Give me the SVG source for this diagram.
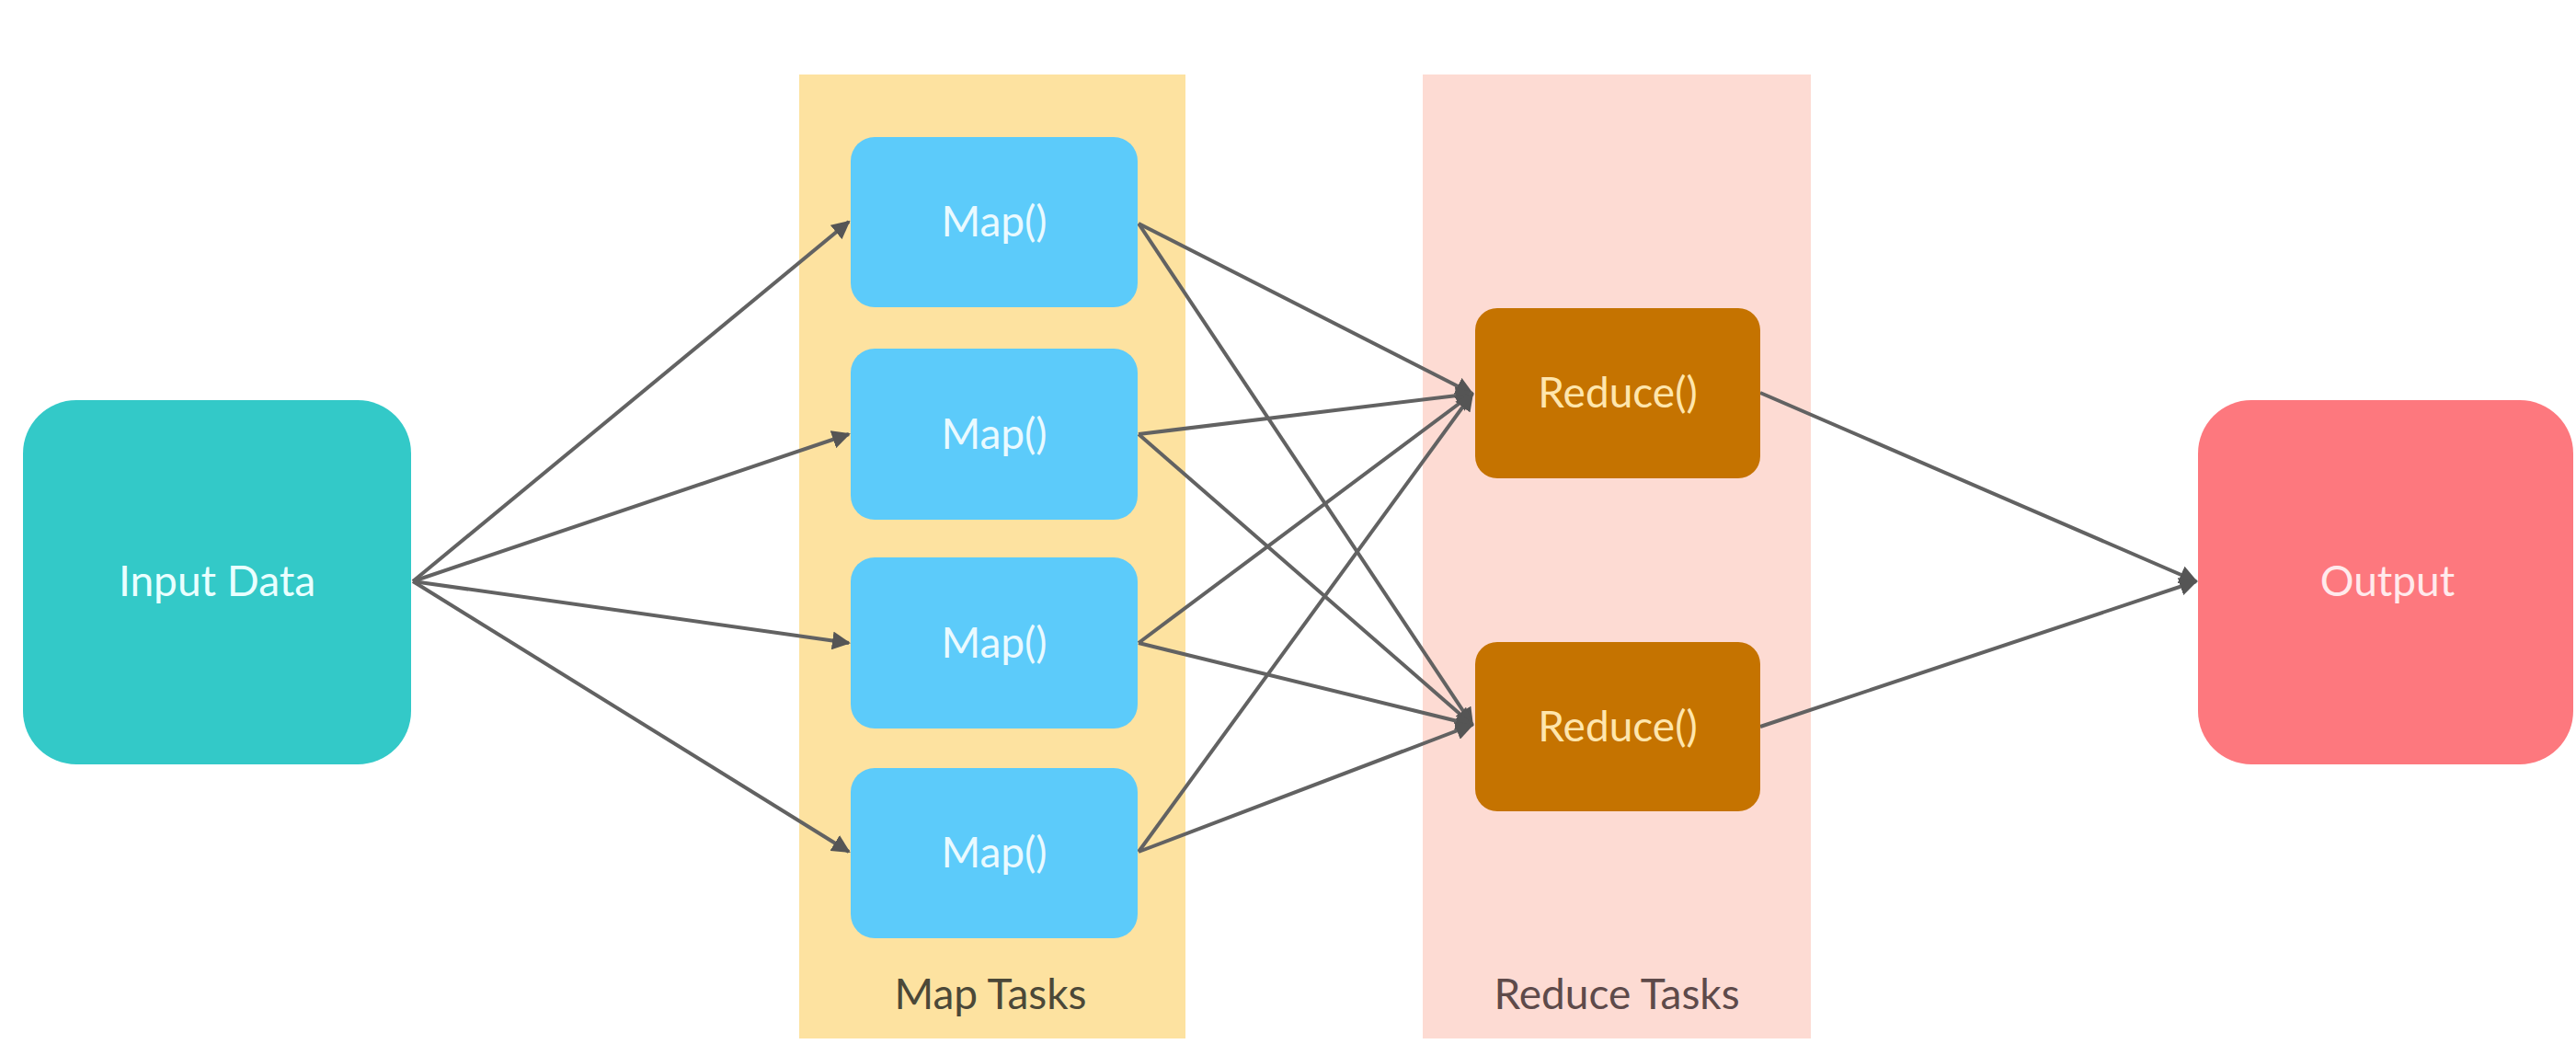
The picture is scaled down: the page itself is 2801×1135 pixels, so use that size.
<svg xmlns="http://www.w3.org/2000/svg" width="2801" height="1135" viewBox="0 0 2801 1135">
<style>
.lbl{font-family:Lato,"Liberation Sans",sans-serif;font-size:46px;text-anchor:middle}
.big{fill:#eaffff}
.map rect{fill:#5ccbfa}
.map text{fill:#eafaff}
.red rect{fill:#c57300}
.red text{fill:#ffe6ad}
.cap{font-family:Lato,"Liberation Sans",sans-serif;font-size:46px;text-anchor:middle}
.conn line{stroke:#626262;stroke-width:4;fill:none}
</style>
<defs>
<marker id="ah" viewBox="0 0 10 10" refX="9" refY="5" markerWidth="5" markerHeight="5" orient="auto" markerUnits="strokeWidth">
<path d="M0,0 L10,5 L0,10 z" fill="#555"/>
</marker>
</defs>
<rect width="2801" height="1135" fill="#ffffff"/>
<g id="map-tasks">
<rect x="869" y="81" width="420" height="1048" fill="#fde2a0"/>
<text class="cap" x="1077" y="1097" fill="#4b4838">Map Tasks</text>
</g>
<g id="reduce-tasks">
<rect x="1547" y="81" width="422" height="1048" fill="#fddbd3"/>
<text class="cap" x="1758" y="1097" fill="#5e4a4a">Reduce Tasks</text>
</g>
<g class="conn" id="connectors">
<line x1="449" y1="632" x2="923" y2="241" marker-end="url(#ah)"/>
<line x1="449" y1="632" x2="923" y2="472" marker-end="url(#ah)"/>
<line x1="449" y1="632" x2="923" y2="699" marker-end="url(#ah)"/>
<line x1="449" y1="632" x2="923" y2="926" marker-end="url(#ah)"/>
<line x1="1238" y1="243" x2="1601" y2="428" marker-end="url(#ah)"/>
<line x1="1238" y1="243" x2="1601" y2="788" marker-end="url(#ah)"/>
<line x1="1238" y1="472" x2="1601" y2="428" marker-end="url(#ah)"/>
<line x1="1238" y1="472" x2="1601" y2="788" marker-end="url(#ah)"/>
<line x1="1238" y1="699" x2="1601" y2="428" marker-end="url(#ah)"/>
<line x1="1238" y1="699" x2="1601" y2="788" marker-end="url(#ah)"/>
<line x1="1238" y1="926" x2="1601" y2="428" marker-end="url(#ah)"/>
<line x1="1238" y1="926" x2="1601" y2="788" marker-end="url(#ah)"/>
<line x1="1914" y1="427" x2="2388" y2="632" marker-end="url(#ah)"/>
<line x1="1914" y1="790" x2="2388" y2="632" marker-end="url(#ah)"/>
</g>
<g id="input-data">
<rect x="25" y="435" width="422" height="396" rx="58" fill="#33c9c8"/>
<text class="lbl big" x="236" y="648">Input Data</text>
</g>
<g id="map1" class="map">
<rect x="925" y="149" width="312" height="185" rx="26"/>
<text class="lbl" x="1081" y="257">Map()</text>
</g>
<g id="map2" class="map">
<rect x="925" y="379" width="312" height="186" rx="26"/>
<text class="lbl" x="1081" y="488">Map()</text>
</g>
<g id="map3" class="map">
<rect x="925" y="606" width="312" height="186" rx="26"/>
<text class="lbl" x="1081" y="715">Map()</text>
</g>
<g id="map4" class="map">
<rect x="925" y="835" width="312" height="185" rx="26"/>
<text class="lbl" x="1081" y="943">Map()</text>
</g>
<g id="reduce1" class="red">
<rect x="1604" y="335" width="310" height="185" rx="24"/>
<text class="lbl" x="1759" y="443">Reduce()</text>
</g>
<g id="reduce2" class="red">
<rect x="1604" y="698" width="310" height="184" rx="24"/>
<text class="lbl" x="1759" y="806">Reduce()</text>
</g>
<g id="output">
<rect x="2390" y="435" width="408" height="396" rx="58" fill="#fd787e"/>
<text class="lbl" x="2596" y="648" fill="#ffeaec">Output</text>
</g>
</svg>
